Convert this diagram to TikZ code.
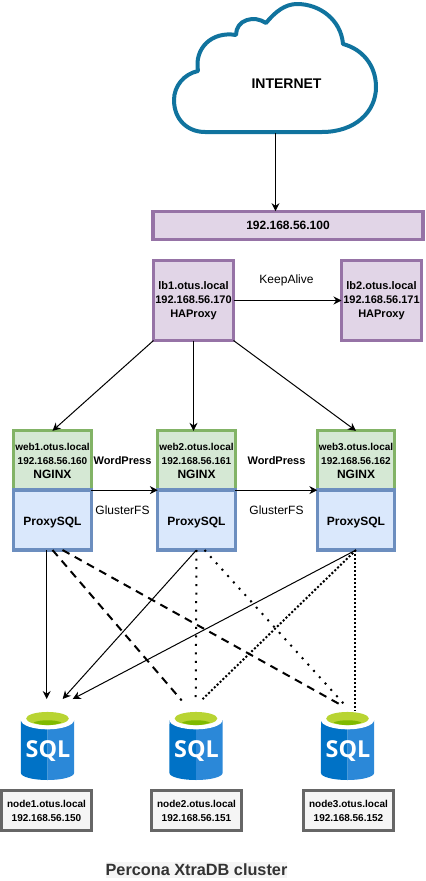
\documentclass[tikz,border=0pt]{standalone}
\usepackage{fontspec}
\usepackage{xcolor}
\usetikzlibrary{arrows.meta}
\setmainfont{Liberation Sans}
\newfontfamily\sqlfont{Open Sans}
\newcommand{\sz}[1]{\fontsize{#1}{10.5pt}\selectfont}
\definecolor{purplefill}{HTML}{E1D5E7}
\definecolor{purpleline}{HTML}{9673A6}
\definecolor{greenfill}{HTML}{D5E8D4}
\definecolor{greenline}{HTML}{82B366}
\definecolor{bluefill}{HTML}{DAE8FC}
\definecolor{blueline}{HTML}{6C8EBF}
\definecolor{greyfill}{HTML}{F5F5F5}
\definecolor{greyline}{HTML}{666666}
\definecolor{cloudline}{HTML}{10739E}
\definecolor{sqlleft}{HTML}{0072C6}
\definecolor{sqlright}{HTML}{2B88D8}
\definecolor{sqlgreen}{HTML}{B8D432}
\definecolor{sqldark}{HTML}{7FBA00}
\tikzset{
  box/.style={draw,line width=2.4pt,outer sep=0pt,inner sep=0pt,align=center,font=\bfseries\sz{9}},
  lbbox/.style={box,line width=2.9pt,draw=purpleline,fill=purplefill,minimum width=60pt,minimum height=60pt,font=\bfseries\sz{8.25},execute at begin node=\rule{0pt}{9.5pt}},
  webbox/.style={box,draw=greenline,fill=greenfill,minimum width=58pt,minimum height=44.5pt,font=\bfseries\sz{7.5},execute at begin node=\rule{0pt}{8.5pt}},
  proxybox/.style={box,draw=blueline,fill=bluefill,minimum width=58pt,minimum height=45pt,execute at begin node=\rule{0pt}{10pt}},
  dbbox/.style={box,draw=greyline,fill=greyfill,minimum width=67.5pt,minimum height=30.5pt,font=\bfseries\sz{7.5}},
  link/.style={line width=.75pt,-{Stealth[length=6pt,width=6pt]}},
  dashlink/.style={line width=1.5pt,dash pattern=on 6pt off 4.5pt},
  dotlink/.style={line width=1.5pt,dash pattern=on 1.5pt off 4.9pt},
  denselink/.style={line width=1.5pt,dash pattern=on 1.5pt off 1.5pt},
  lbl/.style={inner sep=0pt,align=center}
}
\newcommand{\sqlcan}[2]{
  \fill [sqlleft] (#2-26.5,720) -- (#2,720) -- (#2,780) arc [start angle=270,end angle=180,x radius=19.9pt,y radius=5.25pt] -- cycle;
  \fill [sqlright] (#2+26.5,720) -- (#2,720) -- (#2,780) arc [start angle=270,end angle=360,x radius=19.9pt,y radius=5.25pt] -- cycle;
  \fill [white] (#2,720) ellipse [x radius=19.9pt,y radius=7pt];
  \fill [sqlgreen] (#2,718.5) ellipse [x radius=16pt,y radius=4.9pt];
  \fill [sqldark] (#2-14,722.5) .. controls (#2-8,719.5) and (#2+8,719.5) .. (#2+14,722.5) .. controls (#2+6,726) and (#2-6,726) .. cycle;
  \node [lbl,white,font=\sqlfont\bfseries\fontsize{17.5}{17.5pt}\selectfont] (#1) at (#2+.5,751) {SQL};
}

\begin{document}
\begin{tikzpicture}[x=.75pt,y=-.75pt]
  \useasboundingbox (0,0) rectangle (425,881);
  \draw [cloudline,line width=3pt,fill=white,line join=round] (205,132) -- (322,132)
    .. controls (355,132) and (376,112) .. (376,87)
    .. controls (376,65) and (362,49) .. (343,44)
    .. controls (341,20) and (320,4) .. (297,4)
    .. controls (285,4) and (275,12) .. (266,23)
    .. controls (260,19) and (253,18) .. (247,20)
    .. controls (240,22) and (236,28) .. (236,35)
    .. controls (212,31) and (194,48) .. (198,71)
    .. controls (184,74) and (174,86) .. (174,100)
    .. controls (174,120) and (188,132) .. (205,132) -- cycle;
  \node [lbl,font=\bfseries\sz{10.5}] (inet) at (286.5,84) {INTERNET};
  \coordinate (cloudbase) at (275.5,133);

  \node [box,draw=purpleline,fill=purplefill,minimum width=202.5pt,minimum height=21.5pt] (vip) at (288,225.5) {192.168.56.100};
  \node [lbbox] (lb1) at (193.5,300.5) {lb1.otus.local\\192.168.56.170\\HAProxy};
  \node [lbbox] (lb2) at (381.5,300.5) {lb2.otus.local\\192.168.56.171\\HAProxy};

  \node [webbox] (web1) at (52.5,460.5) {web1.otus.local\\192.168.56.160\\\sz{9}NGINX};
  \node [webbox] (web2) at (196.5,460.5) {web2.otus.local\\192.168.56.161\\\sz{9}NGINX};
  \node [webbox] (web3) at (356,460.5) {web3.otus.local\\192.168.56.162\\\sz{9}NGINX};
  \node [proxybox] (proxy1) at (52.5,520) {ProxySQL};
  \node [proxybox] (proxy2) at (196.5,520) {ProxySQL};
  \node [proxybox] (proxy3) at (356,520) {ProxySQL};

  \sqlcan{sql1}{47.5}
  \sqlcan{sql2}{196}
  \sqlcan{sql3}{347.5}
  \node [dbbox] (db1) at (46.5,810.5) {node1.otus.local\\192.168.56.150};
  \node [dbbox] (db2) at (196.5,810.5) {node2.otus.local\\192.168.56.151};
  \node [dbbox] (db3) at (348.5,810.5) {node3.otus.local\\192.168.56.152};

  \coordinate (in1a) at (46.7,699);
  \coordinate (in1b) at (62.7,699);
  \coordinate (in1c) at (72.7,699);
  \coordinate (in2a) at (181.7,700.5);
  \coordinate (in2b) at (195.7,700);
  \coordinate (in2c) at (201.7,700);
  \coordinate (in3a) at (341,705);
  \coordinate (in3b) at (346.7,707);
  \coordinate (in3c) at (355,710.5);

  \draw [link] (cloudbase) to (cloudbase |- vip.north);
  \draw [link] (lb1) to (lb2);
  \draw [link] (lb1.south west) to (web1.north);
  \draw [link] (lb1.south) to (lb1.south |- web2.north);
  \draw [link] (lb1.south east) to (web3.north);
  \draw [link] (web1.south east) to (web2.south west);
  \draw [link] (web2.south east) to (web3.south west);

  \draw [link] (proxy1.south -| in1a) to (in1a);
  \draw [link] (proxy2.south) to (in1b);
  \draw [link] (proxy3.south) to (in1c);
  \draw [dashlink] (proxy1.south) to (in2a);
  \draw [dashlink] ([xshift=7.5pt]proxy1.south) to (in3a);
  \draw [dotlink] (proxy2.south) to (in2b);
  \draw [dotlink] ([xshift=6pt]proxy2.south) to (in3b);
  \draw [denselink] (proxy3.south) to (in2c);
  \draw [denselink] (proxy3.south -| in3c) to (in3c);

  \node [lbl,font=\sz{9}] (keep) at (286.5,280.5) {KeepAlive};
  \node [lbl,font=\bfseries\sz{8.25}] (wp1) at (122.5,461) {WordPress};
  \node [lbl,font=\bfseries\sz{8.25}] (wp2) at (276.5,461) {WordPress};
  \node [lbl,font=\sz{9}] (gfs1) at (122.5,510.5) {GlusterFS};
  \node [lbl,font=\sz{9}] (gfs2) at (276.5,510.5) {GlusterFS};
  \node [fill=greyfill,text=black!80,inner xsep=0pt,inner ysep=1.5pt,font=\bfseries\sz{12.2}] (title) at (196.5,870) {Percona XtraDB cluster};
\end{tikzpicture}
\end{document}
